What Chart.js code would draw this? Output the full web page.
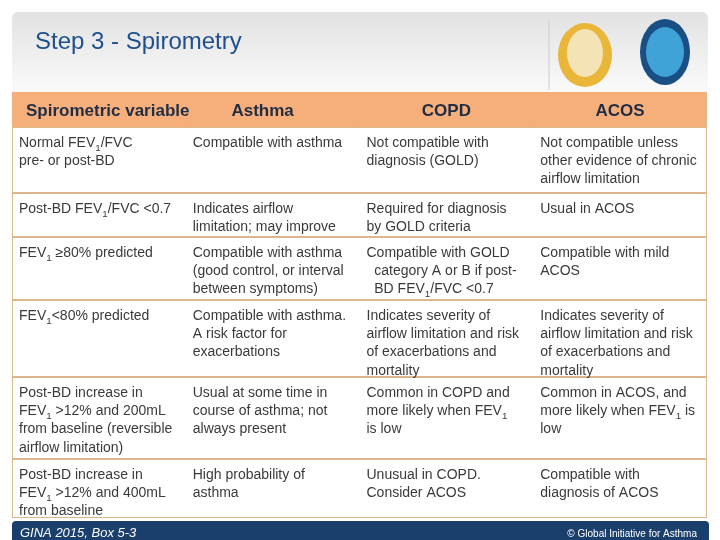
<!DOCTYPE html>
<html><head><meta charset="utf-8">
<script src="https://cdn.jsdelivr.net/npm/chart.js@4"></script>
<style>html,body{margin:0;padding:0;background:#fff}</style>
</head><body>
<canvas id="c" width="720" height="540"></canvas>
<script>
const title = "Step 3 - Spirometry";
const headers = ["Spirometric variable", "Asthma", "COPD", "ACOS"];
const rowEdges = [92, 127, 193, 237, 300, 377, 459, 518];
const colVariable = [
  ["Normal FEV_1/FVC", "pre- or post-BD"],
  ["Post-BD FEV_1/FVC <0.7"],
  ["FEV_1 ≥80% predicted"],
  ["FEV_1<80% predicted"],
  ["Post-BD increase in", "FEV_1 >12% and 200mL", "from baseline (reversible", "airflow limitation)"],
  ["Post-BD increase in", "FEV_1 >12% and 400mL", "from baseline"]
];
const colAsthma = [
  ["Compatible with asthma"],
  ["Indicates airflow", "limitation; may improve"],
  ["Compatible with asthma", "(good control, or interval", "between symptoms)"],
  ["Compatible with asthma.", "A risk factor for", "exacerbations"],
  ["Usual at some time in", "course of asthma; not", "always present"],
  ["High probability of", "asthma"]
];
const colCOPD = [
  ["Not compatible with", "diagnosis (GOLD)"],
  ["Required for diagnosis", "by GOLD criteria"],
  ["Compatible with GOLD", "  category A or B if post-", "  BD FEV_1/FVC <0.7"],
  ["Indicates severity of", "airflow limitation and risk", "of exacerbations and", "mortality"],
  ["Common in COPD and", "more likely when FEV_1", "is low"],
  ["Unusual in COPD.", "Consider ACOS"]
];
const colACOS = [
  ["Not compatible unless", "other evidence of chronic", "airflow limitation"],
  ["Usual in ACOS"],
  ["Compatible with mild", "ACOS"],
  ["Indicates severity of", "airflow limitation and risk", "of exacerbations and", "mortality"],
  ["Common in ACOS, and", "more likely when FEV_1 is", "low"],
  ["Compatible with", "diagnosis of ACOS"]
];
const footerLeft = "GINA 2015, Box 5-3";
const footerRight = "© Global Initiative for Asthma";

const cols = [colVariable, colAsthma, colCOPD, colACOS];
const datasets = [];
for (let r = 0; r < rowEdges.length - 1; r++) {
  datasets.push({
    data: headers.map(() => [rowEdges[r], rowEdges[r + 1]]),
    backgroundColor: r === 0 ? '#f6ae7a' : '#ffffff',
    borderColor: r === 0 ? '#f6ae7a' : '#dcb68c',
    borderWidth: { top: 1, bottom: 1, left: 0, right: 0 }, borderSkipped: false,
    grouped: false, barPercentage: 1.02, categoryPercentage: 1
  });
}

function drawRich(ctx, s, x, y, size) {
  const parts = s.split(/_(\d)/);
  let cx = x;
  parts.forEach((p, i) => {
    if (i % 2 === 1) {
      ctx.font = (size * 0.7) + 'px "Liberation Sans", Arial';
      ctx.fillText(p, cx, y + 4); cx += ctx.measureText(p).width;
    } else {
      ctx.font = size + 'px "Liberation Sans", Arial';
      ctx.fillText(p, cx, y); cx += ctx.measureText(p).width;
    }
  });
}

const deco = {
  id: 'deco',
  beforeDraw(chart) {
    const ctx = chart.ctx;
    ctx.save();
    const g = ctx.createLinearGradient(0, 12, 0, 92);
    g.addColorStop(0, '#e2e2e2'); g.addColorStop(1, '#fafafa');
    ctx.fillStyle = g;
    ctx.beginPath(); ctx.roundRect(12, 12, 696, 82, [6, 6, 0, 0]); ctx.fill();
    ctx.fillStyle = '#1d4f8f';
    ctx.font = '24px "Liberation Sans", Arial';
    ctx.fillText(title, 35, 49);
    ctx.strokeStyle = '#ccc'; ctx.beginPath(); ctx.moveTo(549, 20); ctx.lineTo(549, 90); ctx.stroke();
    ctx.fillStyle = '#e9b63a'; ctx.beginPath(); ctx.ellipse(585, 55, 27, 32, 0, 0, Math.PI * 2); ctx.fill();
    ctx.fillStyle = '#f3e3b5'; ctx.beginPath(); ctx.ellipse(585, 53, 18, 24, 0, 0, Math.PI * 2); ctx.fill();
    ctx.fillStyle = '#1a4f86'; ctx.beginPath(); ctx.ellipse(665, 52, 25, 33, 0, 0, Math.PI * 2); ctx.fill();
    ctx.fillStyle = '#3fa3d8'; ctx.beginPath(); ctx.ellipse(665, 52, 19, 25, 0, 0, Math.PI * 2); ctx.fill();
    ctx.restore();
  },
  afterDatasetsDraw(chart) {
    const ctx = chart.ctx, xs = chart.scales.x, ys = chart.scales.y;
    ctx.save();
    ctx.strokeStyle = '#dcb68c'; ctx.lineWidth = 1;
    ctx.beginPath();
    ctx.moveTo(12.5, ys.getPixelForValue(rowEdges[1])); ctx.lineTo(12.5, ys.getPixelForValue(rowEdges[rowEdges.length - 1]));
    ctx.moveTo(706.5, ys.getPixelForValue(rowEdges[0])); ctx.lineTo(706.5, ys.getPixelForValue(rowEdges[rowEdges.length - 1]));
    ctx.stroke();
    ctx.fillStyle = '#1f2e45';
    ctx.font = 'bold 17px "Liberation Sans", Arial';
    const hy = (ys.getPixelForValue(rowEdges[0]) + ys.getPixelForValue(rowEdges[1])) / 2 + 6;
    const w = xs.getPixelForValue(1) - xs.getPixelForValue(0);
    headers.forEach((h, c) => {
      const cx = xs.getPixelForValue(c);
      if (c === 0) { ctx.textAlign = 'left'; ctx.fillText(h, cx - w / 2 + 14, hy); }
      else { ctx.textAlign = 'center'; ctx.fillText(h, cx + (c === 1 ? -10 : 0), hy); }
    });
    ctx.textAlign = 'left';
    ctx.fillStyle = '#3a3a3a';
    cols.forEach((col, c) => {
      const x0 = xs.getPixelForValue(c) - w / 2 + 7;
      col.forEach((lines, r) => {
        const top = ys.getPixelForValue(rowEdges[r + 1]);
        lines.forEach((ln, i) => drawRich(ctx, ln, x0, top + 20 + i * 18.2, 14));
      });
    });
    ctx.fillStyle = '#1b3f6c';
    ctx.beginPath(); ctx.roundRect(12, 521, 697, 22, [4, 4, 0, 0]); ctx.fill();
    ctx.fillStyle = '#ffffff';
    ctx.font = 'italic 13px "Liberation Sans", Arial';
    ctx.fillText(footerLeft, 20, 537);
    ctx.font = '10px "Liberation Sans", Arial';
    ctx.textAlign = 'right';
    ctx.fillText(footerRight, 697, 537);
    ctx.restore();
  }
};

new Chart(document.getElementById('c'), {
  type: 'bar',
  data: { labels: headers, datasets },
  options: {
    responsive: false, animation: false,
    layout: { padding: { left: 12, right: 13, top: 0, bottom: 0 } },
    plugins: { legend: { display: false }, tooltip: { enabled: false } },
    scales: {
      x: { display: false, offset: true },
      y: { display: false, reverse: true, min: 0, max: 540 }
    }
  },
  plugins: [deco]
});
</script>
</body></html>
